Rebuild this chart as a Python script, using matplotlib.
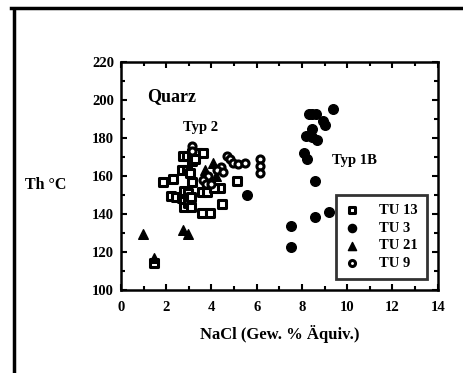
import matplotlib
matplotlib.use('Agg')
import matplotlib.pyplot as plt
from matplotlib.lines import Line2D
import numpy as np

plt.rcParams['font.family'] = ['Liberation Serif', 'DejaVu Serif']
plt.rcParams['font.weight'] = 'bold'

# TU 13 (open squares)
tu13_x = [1.87, 2.31, 2.2, 2.45, 2.7, 2.7, 2.9, 2.75, 2.9, 3.12, 3.42, 3.64, 3.15,
          2.78, 2.78, 2.8, 2.95, 2.95, 3.1, 3.1, 3.05, 3.12, 3.57, 3.79,
          3.57, 3.93, 4.45, 5.11, 4.38, 4.1, 1.47, 3.25]
tu13_y = [156.8, 158.6, 149.5, 149, 148.5, 163.5, 163.5, 170.6, 170.6, 172, 172, 172, 168,
          152, 147, 144, 151, 146, 149, 144, 161.8, 157, 151.5, 151.5,
          140.6, 140.6, 145.5, 157.7, 153.8, 153.8, 114, 169]

# TU 3 (filled circles)
tu3_x = [9.36, 8.3, 8.45, 8.6, 8.95, 9.0, 8.43, 8.2, 8.45, 8.65, 8.1, 8.24,
         8.58, 8.58, 9.2, 7.5, 7.5, 5.58]
tu3_y = [195.6, 192.6, 192.6, 192.6, 189, 187, 184.7, 181, 180.5, 179, 172, 169,
         157.4, 138.5, 141.3, 133.5, 122.6, 150]

# TU 21 (filled triangles)
tu21_x = [0.99, 1.47, 2.76, 2.98, 4.08, 3.71, 3.85, 4.2]
tu21_y = [129.7, 117, 131.8, 129.5, 166.7, 163, 158, 160]

# TU 9 (open circles)
tu9_x = [3.12, 3.12, 4.67, 4.82, 4.97, 5.19, 5.48, 6.14, 6.14, 6.14,
         4.4, 4.23, 4.5, 3.86, 3.64, 3.75, 4.0]
tu9_y = [175.9, 173, 170.6, 168.8, 167, 166.5, 166.7, 168.8, 165.3, 161.8,
         165, 163, 162, 160, 158, 155.6, 155.6]

fig = plt.figure(figsize=(4.64, 3.73), dpi=100)
ax = fig.add_axes([0.2608, 0.2225, 0.6825, 0.6105])

ax.scatter(tu13_x, tu13_y, marker='s', s=26, facecolor='white', edgecolor='black', linewidths=2.2, label='TU 13', zorder=3)
ax.scatter(tu3_x, tu3_y, marker='o', s=48, color='black', label='TU 3', zorder=3)
ax.scatter(tu21_x, tu21_y, marker='^', s=48, color='black', label='TU 21', zorder=3)
ax.scatter(tu9_x, tu9_y, marker='o', s=26, facecolor='white', edgecolor='black', linewidths=2.2, label='TU 9', zorder=3)

ax.set_xlim(0, 14)
ax.set_ylim(100, 220)
ax.set_xticks(np.arange(0, 15, 2))
ax.set_xticks(np.arange(0, 15, 1), minor=True)
ax.set_yticks(np.arange(100, 221, 20))
ax.set_yticks(np.arange(100, 221, 10), minor=True)
ax.tick_params(which='both', direction='in', top=True, right=True, width=1.5, labelsize=10.5)
ax.tick_params(which='major', length=4)
ax.tick_params(which='minor', length=3)
ax.tick_params(axis='x', pad=8)
ax.tick_params(axis='y', pad=5)
for lab in ax.get_xticklabels() + ax.get_yticklabels():
    lab.set_fontweight('bold')
for sp in ax.spines.values():
    sp.set_linewidth(1.8)

ax.set_xlabel('NaCl (Gew. % Äquiv.)', fontsize=12, fontweight='bold', labelpad=8)
fig.text(0.054, 0.505, 'Th °C', fontsize=11.5, fontweight='bold', ha='left', va='center')

ax.text(1.15, 201.7, 'Quarz', fontsize=13, fontweight='bold', ha='left', va='center')
ax.text(2.72, 185.4, 'Typ 2', fontsize=10.5, fontweight='bold', ha='left', va='center')
ax.text(9.33, 168.5, 'Typ 1B', fontsize=10.5, fontweight='bold', ha='left', va='center')

leg = ax.legend(loc='lower right', bbox_to_anchor=(0.966, 0.048), fontsize=10.5,
                frameon=True, fancybox=False, handlelength=1.0, handletextpad=1.4,
                labelspacing=0.32, borderpad=0.6, borderaxespad=0, markerscale=0.85)
leg.get_frame().set_edgecolor('black')
leg.get_frame().set_linewidth(2)
for t in leg.get_texts():
    t.set_fontweight('bold')

fig.add_artist(Line2D([11 / 464, 1], [1 - 8 / 373, 1 - 8 / 373], color='black', linewidth=2.5))
fig.add_artist(Line2D([14 / 464, 14 / 464], [0, 1 - 9 / 373], color='black', linewidth=2.5))

fig.savefig('out.png', dpi=100)
